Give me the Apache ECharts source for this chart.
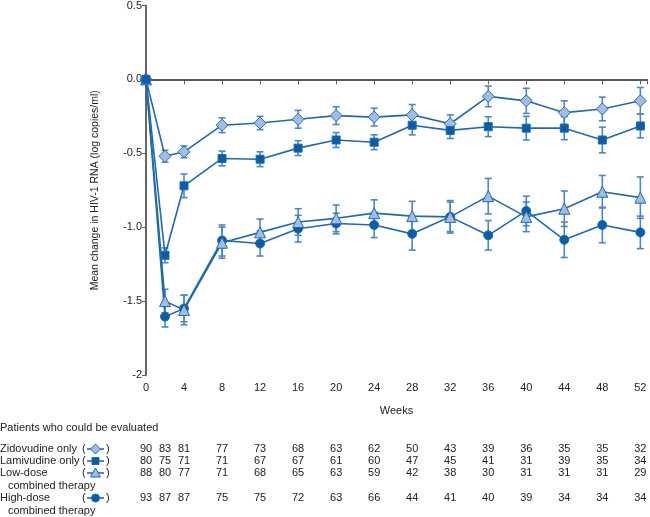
<!DOCTYPE html>
<html><head><meta charset="utf-8">
<script src="https://cdn.jsdelivr.net/npm/echarts@6/dist/echarts.min.js"></script>
<style>html,body{margin:0;padding:0;background:#fff}#c{width:650px;height:517px}</style>
</head><body><div id="c"></div>
<script>
const weeks = [0,2,4,8,12,16,20,24,28,32,36,40,44,48,52];
const xTicks = [0,4,8,12,16,20,24,28,32,36,40,44,48,52];
const yTicks = ['0.5','0.0','-0.5','-1.0','-1.5','-2'];
const seriesNames = ['Zidovudine only','Lamivudine only','Low-dose combined therapy','High-dose combined therapy'];
const zidoMean = [0,-0.52,-0.49,-0.31,-0.295,-0.27,-0.245,-0.255,-0.24,-0.30,-0.115,-0.145,-0.225,-0.20,-0.145];
const zidoErr  = [0,0.04,0.04,0.05,0.045,0.06,0.06,0.06,0.07,0.06,0.07,0.085,0.08,0.08,0.09];
const lamiMean = [0,-1.19,-0.72,-0.535,-0.54,-0.465,-0.41,-0.425,-0.31,-0.345,-0.32,-0.33,-0.33,-0.41,-0.315];
const lamiErr  = [0,0.05,0.08,0.05,0.05,0.05,0.05,0.05,0.065,0.055,0.067,0.08,0.078,0.087,0.08];
const lowMean  = [0,-1.50,-1.56,-1.105,-1.035,-0.965,-0.94,-0.905,-0.925,-0.93,-0.79,-0.93,-0.875,-0.76,-0.80];
const lowErr   = [0,0.08,0.1,0.105,0.09,0.09,0.09,0.09,0.1,0.11,0.12,0.1,0.12,0.11,0.14];
const highMean = [0,-1.605,-1.55,-1.09,-1.11,-1.01,-0.975,-0.985,-1.045,-0.93,-1.055,-0.89,-1.085,-0.985,-1.035];
const highErr  = [0,0.07,0.09,0.105,0.085,0.09,0.07,0.085,0.11,0.1,0.1,0.1,0.12,0.12,0.11];
const zidoN = [90,83,81,77,73,68,63,62,50,43,39,36,35,35,32];
const lamiN = [80,75,71,71,67,67,61,60,47,45,41,31,39,35,34];
const lowN  = [88,80,77,71,68,65,63,59,42,38,30,31,31,31,29];
const highN = [93,87,87,75,75,72,63,66,44,41,40,39,34,34,34];

const LINE = '#1d6ab3', DARK = '#0b5ca6', LIGHT = '#a3bde0', ERR = '#4a88c4', AX = '#666';
const FONT = 'Liberation Sans';

const groups = [
  {mean: zidoMean, err: zidoErr, symbol: 'diamond', size: 12, fill: LIGHT, n: zidoN, z: 4},
  {mean: lamiMean, err: lamiErr, symbol: 'rect', size: 8, fill: DARK, n: lamiN, z: 8},
  {mean: lowMean, err: lowErr, symbol: 'triangle', size: 11, fill: LIGHT, n: lowN, z: 6},
  {mean: highMean, err: highErr, symbol: 'circle', size: 9, fill: DARK, n: highN, z: 5}
];

function errSeries(g, i) {
  return {
    type: 'custom', name: seriesNames[i] + ' SE', z: 3,
    data: weeks.map((w, k) => [w, g.mean[k] - g.err[k], g.mean[k] + g.err[k]]).filter((d,k)=>g.err[k]>0),
    renderItem: function(params, api) {
      const lo = api.coord([api.value(0), api.value(1)]);
      const hi = api.coord([api.value(0), api.value(2)]);
      const cw = 3.5;
      const st = {stroke: ERR, lineWidth: 1.6};
      return {type: 'group', children: [
        {type: 'line', shape: {x1: lo[0], y1: lo[1], x2: hi[0], y2: hi[1]}, style: st},
        {type: 'line', shape: {x1: lo[0]-cw, y1: lo[1], x2: lo[0]+cw, y2: lo[1]}, style: st},
        {type: 'line', shape: {x1: hi[0]-cw, y1: hi[1], x2: hi[0]+cw, y2: hi[1]}, style: st}
      ]};
    }
  };
}

const series = [];
groups.forEach((g, i) => {
  series.push(errSeries(g, i));
  series.push({
    type: 'line', name: seriesNames[i], z: g.z,
    data: weeks.map((w, k) => [w, g.mean[k]]),
    symbol: g.symbol, symbolSize: g.size, showAllSymbol: true,
    lineStyle: {color: LINE, width: 1.6},
    itemStyle: {color: g.fill, borderColor: LINE, borderWidth: 1},
    animation: false
  });
});
series.push({
  type: 'line', data: [], silent: true,
  markLine: {silent: true, symbol: 'none', label: {show: false},
    lineStyle: {color: '#555', width: 1.5, type: 'solid'}, data: [{yAxis: 0}]}
});

const chart = echarts.init(document.getElementById('c'));
chart.setOption({
  animation: false,
  grid: {left: 146, right: 2, top: 4, bottom: 142},
  xAxis: {
    type: 'value', min: 0, max: 52.7, interval: 4,
    name: 'Weeks', nameLocation: 'middle', nameGap: 30,
    nameTextStyle: {fontFamily: FONT, fontSize: 11, color: '#222'},
    axisLine: {lineStyle: {color: AX, width: 2}},
    axisTick: {length: 5, lineStyle: {color: AX}},
    axisLabel: {fontFamily: FONT, fontSize: 11, color: '#222', margin: 7,
      formatter: v => xTicks.indexOf(v) >= 0 ? String(v) : ''},
    splitLine: {show: false}
  },
  yAxis: {
    type: 'value', min: -2, max: 0.5, interval: 0.5,
    name: 'Mean change in HIV-1 RNA (log copies/ml)', nameLocation: 'middle', nameGap: 45,
    nameTextStyle: {fontFamily: FONT, fontSize: 10.5, color: '#222'},
    axisLine: {show: true, lineStyle: {color: AX, width: 2}},
    axisTick: {show: true, length: 4, lineStyle: {color: AX}},
    axisLabel: {fontFamily: FONT, fontSize: 11, color: '#222', margin: 4,
      formatter: v => yTicks[Math.round((0.5 - v) / 0.5)]},
    splitLine: {show: false}
  },
  series: series
});

// Table of patients
const g = [];
const txt = (x, y, s, align) => ({type: 'text', x: x, y: y,
  style: {text: s, fontFamily: FONT, fontSize: 11, fill: '#222', align: align || 'left', verticalAlign: 'middle'}});
g.push(txt(0, 428, 'Patients who could be evaluated'));
const rowY = [449, 461, 473, 498];
const rowLabels = [['Zidovudine only'], ['Lamivudine only'], ['Low-dose', 'combined therapy'], ['High-dose', 'combined therapy']];
groups.forEach((gr, i) => {
  const y = rowY[i];
  g.push(txt(0, y, rowLabels[i][0]));
  if (rowLabels[i][1]) g.push(txt(8, y + 13, rowLabels[i][1]));
  g.push(txt(82, y, '('));
  g.push(txt(106, y, ')'));
  g.push({type: 'line', shape: {x1: 87, y1: y, x2: 104, y2: y}, style: {stroke: LINE, lineWidth: 1.6}});
  let shape;
  const cx = 95.5;
  if (gr.symbol === 'diamond') shape = {type: 'polygon', shape: {points: [[cx, y-5],[cx+5, y],[cx, y+5],[cx-5, y]]}};
  else if (gr.symbol === 'rect') shape = {type: 'rect', shape: {x: cx-3.5, y: y-3.5, width: 7, height: 7}};
  else if (gr.symbol === 'triangle') shape = {type: 'polygon', shape: {points: [[cx, y-5],[cx+5, y+4],[cx-5, y+4]]}};
  else shape = {type: 'circle', shape: {cx: cx, cy: y, r: 4}};
  shape.style = {fill: gr.fill, stroke: LINE, lineWidth: 1};
  g.push(shape);
  weeks.forEach((w, k) => {
    const px = chart.convertToPixel({xAxisIndex: 0}, w);
    g.push(txt(px, y, String(gr.n[k]), 'center'));
  });
});
chart.setOption({graphic: g});
</script></body></html>
